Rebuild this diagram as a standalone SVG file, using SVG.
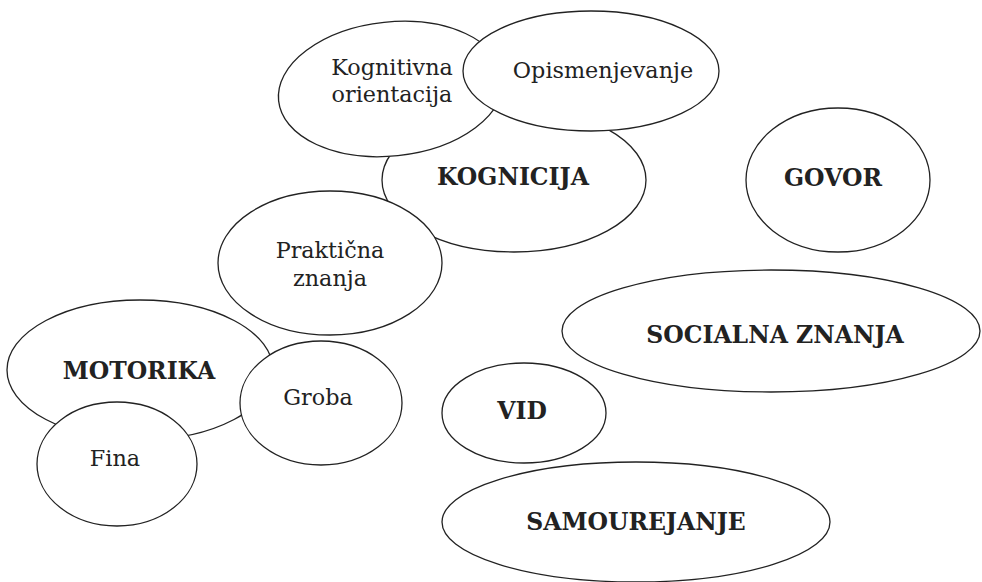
<svg xmlns="http://www.w3.org/2000/svg" width="982" height="582" viewBox="0 0 982 582">
<style>
ellipse{fill:#fff;stroke:#222;stroke-width:1.3}
text{font-family:"DejaVu Serif","Liberation Serif",serif;fill:#222;text-anchor:middle}
.r{font-size:22.3px}
.b{font-size:23.5px;font-weight:bold}
</style>
<rect width="982" height="582" fill="#fff"/>
<g id="connectors"></g>
<g id="kognicija"><ellipse cx="514" cy="180" rx="132" ry="72"/><text class="b" x="513" y="185">KOGNICIJA</text></g>
<g id="kognitivna"><ellipse cx="391" cy="89" rx="113" ry="67" transform="rotate(-6 391 89)"/><text class="r" x="392" y="75">Kognitivna</text><text class="r" x="392" y="102">orientacija</text></g>
<g id="opismenjevanje"><ellipse cx="591" cy="71" rx="128" ry="60"/><text class="r" x="603" y="78">Opismenjevanje</text></g>
<g id="prakticna"><ellipse cx="330" cy="263" rx="112" ry="72"/><text class="r" x="330" y="258">Praktična</text><text class="r" x="330" y="286">znanja</text></g>
<g id="govor"><ellipse cx="838" cy="180" rx="92" ry="72"/><text class="b" x="833" y="186">GOVOR</text></g>
<g id="socialna"><ellipse cx="771" cy="331" rx="209" ry="61"/><text class="b" x="775" y="343">SOCIALNA ZNANJA</text></g>
<g id="motorika"><ellipse cx="140" cy="370" rx="133" ry="70"/><text class="b" x="139" y="379">MOTORIKA</text></g>
<g id="groba"><ellipse cx="321" cy="403" rx="81" ry="62"/><text class="r" x="318" y="405">Groba</text></g>
<g id="fina"><ellipse cx="117" cy="464" rx="80" ry="62"/><text class="r" x="115" y="466">Fina</text></g>
<g id="vid"><ellipse cx="524" cy="413" rx="82" ry="50"/><text class="b" x="522" y="419">VID</text></g>
<g id="samourejanje"><ellipse cx="636" cy="522" rx="194" ry="60"/><text class="b" x="636" y="530">SAMOUREJANJE</text></g>
</svg>
